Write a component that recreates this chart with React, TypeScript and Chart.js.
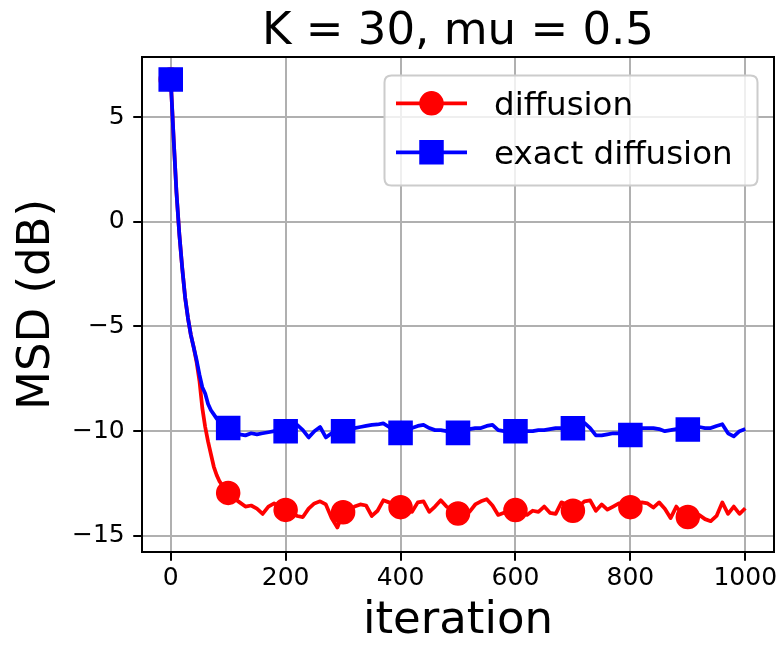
import React, { useEffect, useRef } from "react";
import { Chart, registerables } from "chart.js";

Chart.register(...registerables);

const iterations = [
  0, 5, 10, 15, 20, 25, 30, 35, 40, 45, 50, 55, 60, 65, 70, 75, 80, 85, 90, 95, 100,
  110, 120, 130, 140, 150, 160, 170, 180, 190, 200,
  210, 220, 230, 240, 250, 260, 270, 280, 290, 300,
  310, 320, 330, 340, 350, 360, 370, 380, 390, 400,
  410, 420, 430, 440, 450, 460, 470, 480, 490, 500,
  510, 520, 530, 540, 550, 560, 570, 580, 590, 600,
  610, 620, 630, 640, 650, 660, 670, 680, 690, 700,
  710, 720, 730, 740, 750, 760, 770, 780, 790, 800,
  810, 820, 830, 840, 850, 860, 870, 880, 890, 900,
  910, 920, 930, 940, 950, 960, 970, 980, 990, 1000,
];

const diffusionMSD = [
  6.8, 4.0, 1.4, -0.6, -2.2, -3.6, -4.6, -5.4, -6.0, -6.7, -7.6, -8.9, -9.8, -10.5, -11.1, -11.7, -12.1, -12.4, -12.6, -12.8, -12.95,
  -13.2, -13.4, -13.6, -13.55, -13.7, -13.95, -13.6, -13.45, -13.6, -13.76,
  -13.85, -14.05, -14.1, -13.7, -13.45, -13.35, -13.5, -14.15, -14.6, -13.87,
  -13.75, -13.6, -13.5, -13.55, -14.05, -13.8, -13.3, -13.4, -13.55, -13.63,
  -13.7, -13.85, -13.4, -13.35, -13.85, -13.6, -13.3, -13.6, -13.75, -13.93,
  -13.95, -13.85, -13.5, -13.35, -13.25, -13.55, -14.0, -13.9, -13.8, -13.77,
  -13.85, -14.0, -13.8, -13.85, -13.6, -13.9, -13.95, -13.4, -13.5, -13.8,
  -13.6, -13.35, -13.3, -13.8, -13.5, -13.75, -13.6, -13.45, -13.5, -13.63,
  -13.6, -13.4, -13.45, -13.65, -13.4, -13.7, -14.15, -13.6, -13.95, -14.1,
  -14.15, -14.0, -14.2, -14.3, -14.05, -13.4, -13.95, -13.6, -13.95, -13.68,
];

const exactDiffusionMSD = [
  6.8, 4.0, 1.4, -0.6, -2.2, -3.6, -4.6, -5.4, -6.0, -6.6, -7.3, -7.9, -8.2, -8.7, -9.0, -9.2, -9.4, -9.5, -9.65, -9.75, -9.85,
  -9.95, -10.15, -10.2, -10.1, -10.15, -10.1, -10.05, -10.0, -10.0, -10.0,
  -9.9, -9.7, -9.95, -10.3, -10.0, -9.8, -10.3, -10.1, -10.0, -10.0,
  -9.9, -9.85, -9.8, -9.75, -9.7, -9.68, -9.63, -9.8, -9.95, -10.08,
  -10.0, -9.85, -9.75, -9.7, -9.85, -9.95, -9.95, -10.0, -10.05, -10.08,
  -9.95, -9.9, -9.85, -9.85, -9.75, -9.7, -9.95, -10.0, -10.0, -10.0,
  -10.0, -10.0, -10.0, -9.95, -9.95, -9.9, -9.85, -9.85, -9.85, -9.86,
  -9.75, -9.6, -9.85, -10.2, -10.2, -10.15, -10.1, -10.1, -10.15, -10.18,
  -10.0, -9.85, -9.85, -9.85, -9.9, -10.0, -9.95, -9.9, -9.9, -9.92,
  -9.85, -9.8, -9.85, -9.85, -9.75, -9.67, -10.1, -10.25, -10.0, -9.9,
];

const markerIterations = [0, 100, 200, 300, 400, 500, 600, 700, 800, 900];
const xTicks = [0, 200, 400, 600, 800, 1000];
const yTicks = [-15, -10, -5, 0, 5];
const seriesLabels = ["diffusion", "exact diffusion"];

const FONT = "'DejaVu Sans', 'Liberation Sans', sans-serif";

const framePlugin = {
  id: "mplFrame",
  afterDatasetsDraw(chart: any) {
    const { ctx, chartArea } = chart;
    ctx.save();
    ctx.strokeStyle = "#000";
    ctx.lineWidth = 2;
    ctx.strokeRect(chartArea.left, chartArea.top, chartArea.right - chartArea.left, chartArea.bottom - chartArea.top);
    ctx.restore();
  },
};

const legendPlugin = {
  id: "mplLegend",
  afterDraw(chart: any) {
    const { ctx, chartArea } = chart;
    const x0 = chartArea.right - 389.5;
    const x1 = chartArea.right - 16.5;
    const y0 = chartArea.top + 18.5;
    const y1 = chartArea.top + 128.5;
    const r = 7;
    ctx.save();
    ctx.beginPath();
    ctx.moveTo(x0 + r, y0);
    ctx.lineTo(x1 - r, y0);
    ctx.quadraticCurveTo(x1, y0, x1, y0 + r);
    ctx.lineTo(x1, y1 - r);
    ctx.quadraticCurveTo(x1, y1, x1 - r, y1);
    ctx.lineTo(x0 + r, y1);
    ctx.quadraticCurveTo(x0, y1, x0, y1 - r);
    ctx.lineTo(x0, y0 + r);
    ctx.quadraticCurveTo(x0, y0, x0 + r, y0);
    ctx.closePath();
    ctx.fillStyle = "rgba(255,255,255,0.8)";
    ctx.fill();
    ctx.strokeStyle = "#cccccc";
    ctx.lineWidth = 2;
    ctx.stroke();

    const rows = [chart.data.datasets[0], chart.data.datasets[1]];
    rows.forEach((ds: any, i: number) => {
      const cy = y0 + 27.8 + i * 49;
      const lx0 = x0 + 11.5;
      const lx1 = x0 + 82.5;
      const mx = (lx0 + lx1) / 2;
      ctx.strokeStyle = ds.borderColor;
      ctx.lineWidth = 3.75;
      ctx.lineCap = "butt";
      ctx.beginPath();
      ctx.moveTo(lx0, cy);
      ctx.lineTo(lx1, cy);
      ctx.stroke();
      ctx.fillStyle = ds.backgroundColor;
      ctx.lineWidth = 1.5;
      ctx.beginPath();
      if (ds.pointStyle === "circle") {
        ctx.arc(mx, cy, 11.5, 0, Math.PI * 2);
      } else {
        ctx.rect(mx - 11.5, cy - 11.5, 23, 23);
      }
      ctx.fill();
      ctx.stroke();
      ctx.fillStyle = "#000";
      ctx.font = `32.5px ${FONT}`;
      ctx.textBaseline = "alphabetic";
      ctx.textAlign = "left";
      ctx.fillText(ds.label, x0 + 109.5, cy + 11.8);
    });
    ctx.restore();
  },
};

export default function App() {
  const canvasRef = useRef<HTMLCanvasElement | null>(null);

  useEffect(() => {
    document.body.style.margin = "0";
    const canvas = canvasRef.current;
    if (!canvas) return;

    const isMarker = (ctx: any) =>
      ctx.raw && markerIterations.includes(ctx.raw.x) ? 1 : 0;

    const chart = new Chart(canvas, {
      type: "line",
      data: {
        datasets: [
          {
            label: seriesLabels[0],
            data: iterations.map((x, i) => ({ x, y: diffusionMSD[i] })),
            borderColor: "#ff0000",
            backgroundColor: "#ff0000",
            borderWidth: 3.75,
            borderJoinStyle: "round",
            pointStyle: "circle",
            pointRadius: (c: any) => isMarker(c) * 11.5,
            pointBorderWidth: 1.5,
            pointHoverRadius: 0,
            tension: 0,
            order: 1,
          },
          {
            label: seriesLabels[1],
            data: iterations.map((x, i) => ({ x, y: exactDiffusionMSD[i] })),
            borderColor: "#0000ff",
            backgroundColor: "#0000ff",
            borderWidth: 3.75,
            borderJoinStyle: "round",
            pointStyle: "rect",
            pointRadius: (c: any) => isMarker(c) * 16.3,
            pointBorderWidth: 1.5,
            pointHoverRadius: 0,
            tension: 0,
            order: 0,
          },
        ],
      },
      options: {
        responsive: false,
        animation: false,
        events: [],
        layout: { autoPadding: false, padding: { left: 0, right: 10, top: 0, bottom: 0 } },
        plugins: {
          legend: { display: false },
          tooltip: { enabled: false },
          title: {
            display: true,
            fullSize: false,
            text: "K = 30, mu = 0.5",
            color: "#000",
            font: { family: FONT, size: 45, weight: "normal", lineHeight: 1.1 },
            padding: { top: 7.5, bottom: 0 },
          },
        },
        scales: {
          x: {
            type: "linear",
            min: -50,
            max: 1050,
            afterBuildTicks: (s: any) => {
              s.ticks = xTicks.map((v) => ({ value: v }));
            },
            afterFit: (s: any) => {
              s.height = 95;
              s.paddingLeft = 0;
              s.paddingRight = 0;
            },
            ticks: {
              color: "#000",
              font: { family: FONT, size: 25, lineHeight: 1.2 },
              padding: 2.9,
              maxRotation: 0,
              autoSkip: false,
              callback: (v: any) => String(v),
            },
            grid: {
              color: "#b0b0b0",
              lineWidth: 2,
              tickColor: "#000",
              tickLength: 8.75,
            },
            border: { display: false },
            title: {
              display: true,
              text: "iteration",
              color: "#000",
              font: { family: FONT, size: 45, lineHeight: 1.05 },
              padding: { top: 0, bottom: 2 },
            },
          },
          y: {
            type: "linear",
            min: -15.77,
            max: 7.87,
            afterBuildTicks: (s: any) => {
              s.ticks = yTicks.map((v) => ({ value: v }));
            },
            afterFit: (s: any) => {
              s.width = 142;
              s.paddingTop = 0;
              s.paddingBottom = 0;
            },
            ticks: {
              color: "#000",
              font: { family: FONT, size: 25, lineHeight: 1.2 },
              padding: 8.5,
              autoSkip: false,
              callback: (v: any) => (v < 0 ? "\u2212" + Math.abs(v) : String(v)),
            },
            grid: {
              color: "#b0b0b0",
              lineWidth: 2,
              tickColor: "#000",
              tickLength: 8.75,
            },
            border: { display: false },
            title: {
              display: true,
              text: "MSD (dB)",
              color: "#000",
              font: { family: FONT, size: 45, lineHeight: 1.05 },
              padding: { top: 14, bottom: 0 },
            },
          },
        },
      },
      plugins: [framePlugin, legendPlugin],
    } as any);

    return () => chart.destroy();
  }, []);

  return (
    <div style={{ width: 784, height: 647 }}>
      <canvas ref={canvasRef} width={784} height={647} />
    </div>
  );
}
